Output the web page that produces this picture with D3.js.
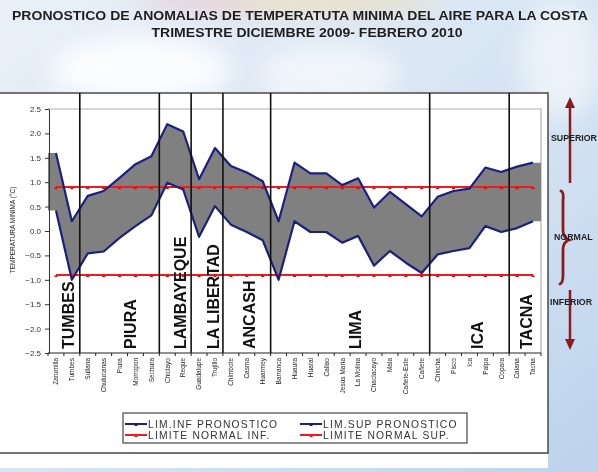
<!DOCTYPE html>
<html><head><meta charset="utf-8">
<script src="https://cdn.jsdelivr.net/npm/d3@7"></script>
<style>
html,body{margin:0;padding:0;overflow:hidden;background:#d9e6f3;}
svg{display:block;font-family:"Liberation Sans",Arial,sans-serif;}
</style></head>
<body>
<svg id="c" width="598" height="472"></svg>
<script>
// ---------------- DATA ----------------
const categories = ["Zarumilla","Tumbes","Sullana","Chulucanas","Piura","Morropon","Sechura",
  "Chiclayo","Reque","Guadalupe","Trujillo","Chimbote","Casma","Huarmey","Barranca","Huaura",
  "Huaral","Callao","Jesús María","La Molina","Chaclacayo","Mala","Cañete-Este","Cañete",
  "Chincha","Pisco","Ica","Palpa","Copara","Calana","Tacna"];
const limSup = [1.6,0.2,0.72,0.82,1.09,1.37,1.53,2.19,2.04,1.06,1.70,1.33,1.20,1.02,0.20,1.40,
  1.18,1.18,0.94,1.08,0.48,0.80,0.55,0.30,0.70,0.82,0.87,1.30,1.21,1.32,1.40];
const limInf = [0.42,-1.0,-0.46,-0.42,-0.14,0.10,0.32,0.99,0.85,-0.12,0.51,0.13,-0.02,-0.19,-1.0,0.20,
  -0.02,-0.02,-0.24,-0.10,-0.71,-0.41,-0.65,-0.86,-0.48,-0.41,-0.35,0.10,-0.02,0.06,0.20];
const normalSup = 0.9;
const normalInf = -0.9;
const yTicks = [-2.5,-2.0,-1.5,-1.0,-0.5,0.0,0.5,1.0,1.5,2.0,2.5];
const regionNames = ["TUMBES","PIURA","LAMBAYEQUE","LA LIBERTAD","ANCASH","LIMA","ICA","TACNA"];
const regionFirst = ["Zarumilla","Sullana","Chiclayo","Guadalupe","Chimbote","Barranca","Chincha","Calana"];
const regionLabelPos = [1.29,5.18,8.33,10.4,12.66,19.3,26.97,30.09]; // in category units
const legendItems = [
  {label:"LIM.INF PRONOSTICO", kind:"blue"},
  {label:"LIM.SUP PRONOSTICO", kind:"blue"},
  {label:"LIMITE NORMAL INF.", kind:"red"},
  {label:"LIMITE NORMAL SUP.", kind:"red"}];
const titleLines = ["PRONOSTICO DE ANOMALIAS DE TEMPERATUTA MINIMA DEL AIRE PARA LA COSTA",
  "TRIMESTRE DICIEMBRE 2009- FEBRERO 2010"];
const sideLabels = ["SUPERIOR","NORMAL","INFERIOR"];

// ---------------- DRAW ----------------
const svg = d3.select("#c");
const BLUE = "#1d1f7e", RED = "#ee1c1c", DARKRED = "#8c1a1f";

// background sky
const defs = svg.append("defs");
const bg = defs.append("linearGradient").attr("id","sky").attr("x1",0).attr("y1",0).attr("x2",1).attr("y2",1);
bg.append("stop").attr("offset","0%").attr("stop-color","#e9f0f8");
bg.append("stop").attr("offset","60%").attr("stop-color","#d3e2f2");
bg.append("stop").attr("offset","100%").attr("stop-color","#bcd3ec");
defs.append("filter").attr("id","blur").append("feGaussianBlur").attr("stdDeviation",12);
svg.append("rect").attr("width",598).attr("height",472).attr("fill","url(#sky)");
const clouds = svg.append("g").attr("filter","url(#blur)");
clouds.append("ellipse").attr("cx",140).attr("cy",70).attr("rx",90).attr("ry",35).attr("fill","#ffffff").attr("opacity",0.85);
clouds.append("ellipse").attr("cx",330).attr("cy",75).attr("rx",70).attr("ry",30).attr("fill","#ffffff").attr("opacity",0.6);
clouds.append("ellipse").attr("cx",560).attr("cy",60).attr("rx",40).attr("ry",60).attr("fill","#f4f8fc").attr("opacity",0.7);
clouds.append("ellipse").attr("cx",290).attr("cy",0).attr("rx",150).attr("ry",8).attr("fill","#f3d8a0").attr("opacity",0.9);
clouds.append("ellipse").attr("cx",200).attr("cy",0).attr("rx",60).attr("ry",6).attr("fill","#e9b6c4").attr("opacity",0.9);

// title
svg.append("text").attr("x",300).attr("y",20).attr("text-anchor","middle")
  .attr("font-size",12.5).attr("font-weight","bold").attr("fill","#1e1e1e")
  .attr("textLength",576).attr("lengthAdjust","spacingAndGlyphs").text(titleLines[0]);
svg.append("text").attr("x",307).attr("y",37).attr("text-anchor","middle")
  .attr("font-size",12.5).attr("font-weight","bold").attr("fill","#1e1e1e")
  .attr("textLength",311).attr("lengthAdjust","spacingAndGlyphs").text(titleLines[1]);

// chart frame
svg.append("rect").attr("x",-2).attr("y",93).attr("width",550).attr("height",360)
  .attr("fill","#ffffff").attr("stroke","#4a4a4a").attr("stroke-width",1.5);
svg.append("rect").attr("x",0).attr("y",454).attr("width",548).attr("height",14).attr("fill","#ffffff");

// scales
const x = d3.scaleBand().domain(categories).range([48,541]).padding(0);
const y = d3.scaleLinear().domain([-2.5,2.5]).range([353,109]);
const cx = d => x(d) + x.bandwidth()/2;
const step = x.step();

// plot border (top & right)
svg.append("path").attr("d",`M48,${y(2.5)}H541V${y(-2.5)}`).attr("fill","none").attr("stroke","#b0b0b0").attr("stroke-width",1.2);

// area between limits (extended flat to plot edges)
const areaPts = categories.map((c,i)=>({x:cx(c), hi:limSup[i], lo:limInf[i]}));
areaPts.unshift({x:48, hi:limSup[0], lo:limInf[0]});
areaPts.push({x:541, hi:limSup[limSup.length-1], lo:limInf[limInf.length-1]});
svg.append("path").datum(areaPts)
  .attr("d", d3.area().x(d=>d.x).y0(d=>y(d.lo)).y1(d=>y(d.hi)))
  .attr("fill","#808080");

// normal limit lines (red) with small markers
[normalSup, normalInf].forEach(v=>{
  svg.append("path").datum(categories)
    .attr("d", d3.line().x(d=>cx(d)).y(()=>y(v)))
    .attr("fill","none").attr("stroke",RED).attr("stroke-width",2);
  svg.append("g").selectAll("rect").data(categories).join("rect")
    .attr("x",d=>cx(d)-1.5).attr("y",y(v)+0.5).attr("width",3).attr("height",1.6).attr("fill","#c01515");
});

// forecast limit lines (blue)
[limSup, limInf].forEach(arr=>{
  svg.append("path").datum(arr)
    .attr("d", d3.line().x((d,i)=>cx(categories[i])).y(d=>y(d)))
    .attr("fill","none").attr("stroke",BLUE).attr("stroke-width",2.2).attr("stroke-linejoin","round");
});

// region dividers
svg.append("g").selectAll("line").data(regionFirst.slice(1)).join("line")
  .attr("x1",d=>x(d)).attr("x2",d=>x(d)).attr("y1",93).attr("y2",y(-2.5))
  .attr("stroke","#111").attr("stroke-width",1.6);

// region labels
svg.append("g").selectAll("text").data(regionNames).join("text")
  .attr("transform",(d,i)=>`translate(${48+step*regionLabelPos[i]+5.8},349) rotate(-90)`)
  .attr("font-size",16).attr("font-weight","bold").attr("fill","#111")
  .text(d=>d);

// y axis
const yAxis = svg.append("g").attr("transform","translate(49,0)")
  .call(d3.axisLeft(y).tickValues(yTicks).tickSize(4).tickSizeOuter(0).tickFormat(d3.format(".1f")));
yAxis.select(".domain").attr("stroke","#333");
yAxis.selectAll(".tick line").attr("stroke","#333");
yAxis.selectAll(".tick text").attr("font-size",8).attr("fill","#333").attr("font-family","Liberation Sans, Arial").attr("x",-8);

// x axis
svg.append("line").attr("x1",48).attr("x2",541).attr("y1",y(-2.5)).attr("y2",y(-2.5)).attr("stroke","#222").attr("stroke-width",1.2);
svg.append("g").selectAll("line").data(categories.concat(["__end"])).join("line")
  .attr("x1",(d,i)=>48+step*i).attr("x2",(d,i)=>48+step*i)
  .attr("y1",y(-2.5)).attr("y2",y(-2.5)+3).attr("stroke","#222");
svg.append("g").selectAll("text").data(categories).join("text")
  .attr("transform",d=>`translate(${cx(d)+2.3},358) rotate(-90)`)
  .attr("text-anchor","end").attr("font-size",6.5).attr("fill","#222")
  .text(d=>d);

// y axis title
svg.append("text").attr("transform","translate(15,230) rotate(-90)")
  .attr("text-anchor","middle").attr("font-size",6.5).attr("fill","#222")
  .text("TEMPERATURA MINIMA (°C)");

// legend
const lg = svg.append("g");
lg.append("rect").attr("x",123).attr("y",413).attr("width",344).attr("height",30)
  .attr("fill","#ffffff").attr("stroke","#444").attr("stroke-width",1.2);
legendItems.forEach((it,i)=>{
  const col = i%2, row = Math.floor(i/2);
  const lx = 125 + col*175, ly = 424 + row*11;
  const c = it.kind==="blue"?BLUE:RED;
  lg.append("line").attr("x1",lx).attr("x2",lx+22).attr("y1",ly).attr("y2",ly).attr("stroke",c).attr("stroke-width",2);
  lg.append("rect").attr("x",lx+9.5).attr("y",ly-1).attr("width",3).attr("height",3).attr("fill",c);
  lg.append("text").attr("x",lx+23).attr("y",ly+3.5).attr("font-size",10.3).attr("fill","#333")
    .attr("letter-spacing",1.2).text(it.label);
});

// right side indicators
const side = svg.append("g");
side.append("line").attr("x1",570).attr("x2",570).attr("y1",183).attr("y2",106).attr("stroke",DARKRED).attr("stroke-width",2.5);
side.append("path").attr("d","M570,97 L565,108 L575,108 Z").attr("fill",DARKRED);
side.append("line").attr("x1",570).attr("x2",570).attr("y1",290).attr("y2",340).attr("stroke",DARKRED).attr("stroke-width",2.5);
side.append("path").attr("d","M570,350 L565,339 L575,339 Z").attr("fill",DARKRED);
side.append("path").attr("d","M561,191 Q564,192 563,200 L563,230 Q563,238 569,240 Q563,242 563,250 L563,275 Q563,283 560,284")
  .attr("fill","none").attr("stroke",DARKRED).attr("stroke-width",2.8).attr("stroke-linecap","round");
const sideY = [137,236,301], sideX = [551,554,550];
sideLabels.forEach((t,i)=>{
  side.append("text").attr("x",sideX[i]).attr("y",sideY[i]+3.5).attr("font-size",8.8).attr("font-weight","bold")
    .attr("fill","#1e1e1e").text(t);
});
</script>
</body></html>
